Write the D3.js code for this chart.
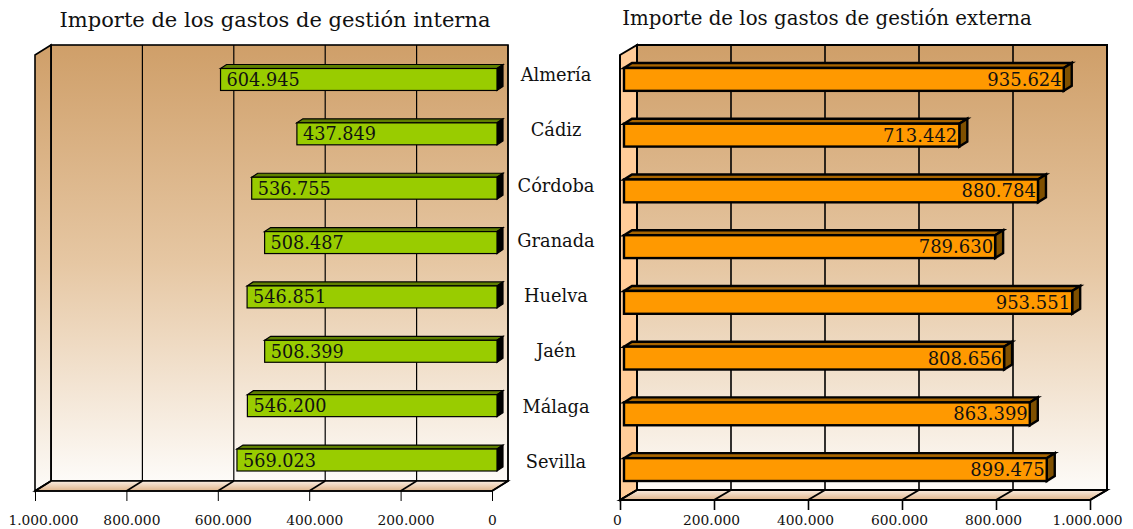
<!DOCTYPE html>
<html><head><meta charset="utf-8">
<script src="https://cdnjs.cloudflare.com/ajax/libs/d3/7.8.5/d3.min.js"></script>
<style>html,body{margin:0;padding:0;background:#fff}svg{display:block}text{font-family:"DejaVu Serif",serif;fill:#111}</style>
</head><body><div id="c"></div>
<script>
const categories=["Almería","Cádiz","Córdoba","Granada","Huelva","Jaén","Málaga","Sevilla"];
const internal=[604945,437849,536755,508487,546851,508399,546200,569023];
const external=[935624,713442,880784,789630,953551,808656,863399,899475];
const ticks=[0,200000,400000,600000,800000,1000000];
const W=1133,H=529;
const svg=d3.select("#c").append("svg").attr("width",W).attr("height",H);
const defs=svg.append("defs");
function grad(id,stops){const g=defs.append("linearGradient").attr("id",id).attr("x1",0).attr("x2",0).attr("y1",0).attr("y2",1);
 stops.forEach(s=>g.append("stop").attr("offset",s[0]).attr("stop-color",s[1]));}
grad("wall",[[0,"#cf9f69"],[.5,"#e6c7a3"],[1,"#fdfbf8"]]);
grad("floor",[[0,"#fbeee2"],[1,"#dfb48a"]]);
const fmt=d3.formatLocale({decimal:",",thousands:".",grouping:[3],currency:["","€"]}).format(",d");
const poly=(g,pts,fill,sw)=>g.append("polygon").attr("points",pts.map(p=>p.join(",")).join(" ")).attr("fill",fill).attr("stroke","#000").attr("stroke-width",sw).attr("stroke-linejoin","miter");

function panel(o){
 const g=svg.append("g");
 const x=d3.scaleLinear().domain([0,1000000]).range(o.frontRange);
 const y=d3.scaleBand().domain(categories).range(o.barY).paddingInner(o.pad).paddingOuter(0);
 const {dx,dy,top,floorBack,sw}=o;
 const front=o.frontRange, L=Math.min(...front), R=Math.max(...front), fy=floorBack+dy;
 g.append("rect").attr("x",L+dx).attr("y",top).attr("width",R-L).attr("height",floorBack-top)
  .attr("fill","url(#wall)").attr("stroke","#000").attr("stroke-width",sw);
 poly(g,[[L,top+dy],[L+dx,top],[L+dx,floorBack],[L,fy]],o.sideFill,sw);
 poly(g,[[L,fy],[L+dx,floorBack],[R+dx,floorBack],[R,fy]],"url(#floor)",sw);
 g.append("g").selectAll("line.g").data(ticks).join("line").attr("class","g")
  .attr("x1",d=>x(d)+dx).attr("x2",d=>x(d)+dx).attr("y1",top).attr("y2",floorBack)
  .attr("stroke","#000").attr("stroke-width",o.gridW);
 g.append("g").selectAll("line.d").data(ticks).join("line").attr("class","d")
  .attr("x1",d=>x(d)+dx).attr("x2",d=>x(d)).attr("y1",floorBack).attr("y2",fy)
  .attr("stroke","#000").attr("stroke-width",sw);
 const ax=g.append("g").attr("transform",`translate(0,${fy})`)
  .call(d3.axisBottom(x).tickValues(ticks).tickFormat(fmt).tickSize(10).tickPadding(o.tickPad));
 ax.select(".domain").attr("stroke","#000").attr("stroke-width",sw).attr("d",`M${L},0H${R}`);
 ax.selectAll(".tick line").attr("stroke","#000").attr("stroke-width",o.tickW);
 ax.selectAll(".tick text").attr("font-size",13.8).attr("font-family",'"DejaVu Serif",serif').attr("fill","#222")
   .attr("dx",o.labelDx);
 const bg=g.append("g");
 const b=o.barDepth, z=x(0)+o.barInset;
 o.values.forEach((v,i)=>{
  const t=y(categories[i]),h=y.bandwidth(),e=z+(x(v)-x(0));
  const a=Math.min(z,e),c=Math.max(z,e);
  poly(bg,[[a,t],[a+b[0],t-b[1]],[c+b[0],t-b[1]],[c,t]],o.topFill,o.barSw);
  poly(bg,[[c,t],[c+b[0],t-b[1]],[c+b[0],t+h-b[1]],[c,t+h]],o.endFill,o.barSw);
  bg.append("rect").attr("x",a).attr("y",t).attr("width",c-a).attr("height",h)
    .attr("fill",o.fill).attr("stroke","#000").attr("stroke-width",o.barSw);
  bg.append("text").attr("x",o.side==="left"?a+6:c-2).attr("y",t+h/2+6.5)
    .attr("text-anchor",o.side==="left"?"start":"end").attr("font-size",o.valueSize).text(fmt(v));
 });
 g.append("text").attr("x",o.titleX).attr("y",o.titleY).attr("font-size",o.titleSize).attr("text-anchor","middle").text(o.title);
}
panel({title:"Importe de los gastos de gestión interna",titleX:275,titleY:27,titleSize:21,valueSize:17.7,values:internal,
 frontRange:[492,35],dx:16,dy:10,top:45,floorBack:481,sw:1.6,gridW:1.2,tickW:1,tickPad:14,
 barY:[68.5,471],pad:.596,barInset:5,barDepth:[6,4],barSw:1.2,fill:"#99cc00",topFill:"#5f8000",endFill:"#000",
 sideFill:"url(#wall)",side:"left",labelDx:d=>d===0?0:d===1000000?8:5});
panel({title:"Importe de los gastos de gestión externa",titleX:827,titleY:25,titleSize:19.8,valueSize:18,values:external,
 frontRange:[620,1090],dx:17,dy:10,top:45,floorBack:490,sw:2,gridW:1.6,tickW:1.6,tickPad:5,
 barY:[68,481],pad:.59,barInset:4,barDepth:[8,5],barSw:2.4,fill:"#ff9900",topFill:"#a86500",endFill:"#7f5000",
 sideFill:"#ffcc99",side:"right",labelDx:-3});
const ly=d3.scalePoint().domain(categories).range([74,461]);
svg.append("g").selectAll("text").data(categories).join("text")
 .attr("x",556).attr("y",d=>ly(d)+7).attr("text-anchor","middle").attr("font-size",17.8).text(d=>d);
</script></body></html>
